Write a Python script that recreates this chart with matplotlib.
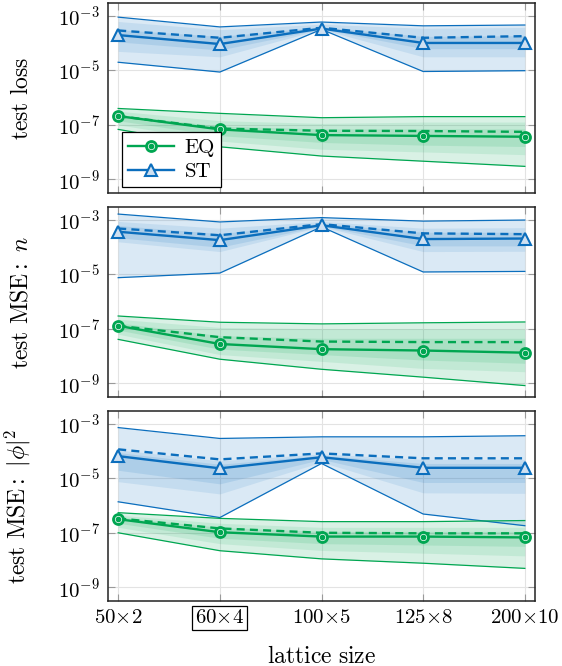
import numpy as np
import matplotlib
matplotlib.use('Agg')
import matplotlib.pyplot as plt
from matplotlib.ticker import FixedLocator, NullLocator

plt.rcParams['font.family'] = 'serif'
plt.rcParams['font.serif'] = ['cmr10']
plt.rcParams['mathtext.fontset'] = 'cm'
plt.rcParams['axes.formatter.use_mathtext'] = True

# lattice sizes on the x axis
lattice = [r'$50{\times}2$', r'$60{\times}4$', r'$100{\times}5$', r'$125{\times}8$', r'$200{\times}10$']
ylabels = [r'$\mathrm{test\ loss}$', r'$\mathrm{test\ MSE{:}}\ n$', r'$\mathrm{test\ MSE{:}}\ {|}\phi{|}^2$']

# all values are log10 of the metric
# panel 1: test loss
st_loss_max = [-3.04, -3.40, -3.22, -3.36, -3.33]
st_loss_q90 = [-3.20, -3.50, -3.30, -3.45, -3.42]
st_loss_q75 = [-3.50, -3.75, -3.40, -3.75, -3.72]
st_loss_med = [-3.70, -4.03, -3.46, -3.99, -3.99]
st_loss_mean = [-3.53, -3.80, -3.43, -3.80, -3.74]
st_loss_q25 = [-3.95, -4.25, -3.48, -4.20, -4.20]
st_loss_q10 = [-4.30, -4.50, -3.49, -4.50, -4.50]
st_loss_min = [-4.70, -5.06, -3.49, -5.04, -5.01]

eq_loss_max = [-6.40, -6.58, -6.74, -6.70, -6.70]
eq_loss_q90 = [-6.50, -6.85, -6.95, -6.90, -6.90]
eq_loss_q75 = [-6.62, -7.05, -7.15, -7.15, -7.15]
eq_loss_med = [-6.68, -7.17, -7.38, -7.41, -7.44]
eq_loss_mean = [-6.68, -7.14, -7.22, -7.23, -7.26]
eq_loss_q25 = [-6.85, -7.40, -7.65, -7.75, -7.80]
eq_loss_q10 = [-7.00, -7.60, -7.90, -8.00, -8.10]
eq_loss_min = [-7.17, -7.81, -8.15, -8.34, -8.53]

# panel 2: test MSE n
st_n_max = [-2.78, -3.07, -2.91, -3.04, -3.00]
st_n_q90 = [-3.05, -3.30, -3.05, -3.30, -3.28]
st_n_q75 = [-3.20, -3.50, -3.12, -3.45, -3.45]
st_n_med = [-3.43, -3.74, -3.19, -3.70, -3.68]
st_n_mean = [-3.31, -3.56, -3.15, -3.49, -3.52]
st_n_q25 = [-3.65, -4.00, -3.22, -3.95, -3.95]
st_n_q10 = [-3.80, -4.16, -3.24, -4.16, -4.15]
st_n_min = [-5.12, -4.95, -3.25, -4.91, -4.89]

eq_n_max = [-6.53, -6.76, -6.82, -6.78, -6.75]
eq_n_q90 = [-6.65, -6.95, -7.00, -7.00, -7.02]
eq_n_q75 = [-6.78, -7.25, -7.35, -7.35, -7.35]
eq_n_med = [-6.89, -7.56, -7.75, -7.80, -7.88]
eq_n_mean = [-6.89, -7.31, -7.47, -7.49, -7.49]
eq_n_q25 = [-7.05, -7.75, -7.95, -8.15, -8.27]
eq_n_q10 = [-7.20, -7.95, -8.20, -8.46, -8.58]
eq_n_min = [-7.39, -8.12, -8.49, -8.78, -9.09]

# panel 3: test MSE |phi|^2
st_phi_max = [-3.13, -3.53, -3.47, -3.47, -3.43]
st_phi_q90 = [-3.95, -4.35, -4.10, -4.30, -4.30]
st_phi_q75 = [-4.05, -4.48, -4.15, -4.45, -4.45]
st_phi_med = [-4.18, -4.63, -4.22, -4.61, -4.61]
st_phi_mean = [-3.93, -4.30, -4.08, -4.26, -4.26]
st_phi_q25 = [-4.70, -5.20, -4.30, -5.15, -5.15]
st_phi_q10 = [-5.12, -5.57, -4.40, -5.53, -5.55]
st_phi_min = [-5.86, -6.44, -4.45, -6.31, -6.74]

eq_phi_max = [-6.26, -6.47, -6.59, -6.59, -6.55]
eq_phi_q90 = [-6.35, -6.65, -6.80, -6.80, -6.80]
eq_phi_q75 = [-6.42, -6.80, -6.95, -6.95, -6.95]
eq_phi_med = [-6.50, -6.98, -7.14, -7.14, -7.17]
eq_phi_mean = [-6.47, -6.84, -7.00, -7.02, -7.02]
eq_phi_q25 = [-6.65, -7.20, -7.40, -7.45, -7.50]
eq_phi_q10 = [-6.80, -7.40, -7.65, -7.75, -7.85]
eq_phi_min = [-7.00, -7.66, -7.96, -8.12, -8.31]

panels = [
    dict(st=(st_loss_min, st_loss_q10, st_loss_q25, st_loss_med, st_loss_mean, st_loss_q75, st_loss_q90, st_loss_max),
         eq=(eq_loss_min, eq_loss_q10, eq_loss_q25, eq_loss_med, eq_loss_mean, eq_loss_q75, eq_loss_q90, eq_loss_max)),
    dict(st=(st_n_min, st_n_q10, st_n_q25, st_n_med, st_n_mean, st_n_q75, st_n_q90, st_n_max),
         eq=(eq_n_min, eq_n_q10, eq_n_q25, eq_n_med, eq_n_mean, eq_n_q75, eq_n_q90, eq_n_max)),
    dict(st=(st_phi_min, st_phi_q10, st_phi_q25, st_phi_med, st_phi_mean, st_phi_q75, st_phi_q90, st_phi_max),
         eq=(eq_phi_min, eq_phi_q10, eq_phi_q25, eq_phi_med, eq_phi_mean, eq_phi_q75, eq_phi_q90, eq_phi_max)),
]

blue = '#0B6EBD'
green = '#00A651'
x = np.arange(len(lattice))

fig = plt.figure(figsize=(5.62, 6.66), dpi=100)
W, H = 562, 666
axes = []
for top in [3, 207, 411]:
    axes.append(fig.add_axes([108 / W, 1 - (top + 190) / H, 427 / W, 190 / H]))


def draw_series(ax, vals, color, kind):
    lo, q10, q25, med, mean, q75, q90, hi = [10 ** np.array(v) for v in vals]
    ax.fill_between(x, lo, hi, color=color, alpha=0.15, lw=0)
    ax.fill_between(x, q10, q90, color=color, alpha=0.10, lw=0)
    ax.fill_between(x, q25, q75, color=color, alpha=0.12, lw=0)
    ax.plot(x, lo, color=color, lw=0.9)
    ax.plot(x, hi, color=color, lw=0.9)
    ax.plot(x, mean, color=color, lw=1.7, ls=(0, (3.4, 2.2)))
    if kind == 'eq':
        line, = ax.plot(x, med, color=color, lw=1.7, marker='o', ms=8,
                        mfc=color, mec=color, mew=1.2)
        ring, = ax.plot(x, med, ls='none', marker='o', ms=4.6,
                        mfc='none', mec='white', mew=0.5)
        return (line, ring)
    line, = ax.plot(x, med, color=color, lw=1.7, marker='^', ms=8,
                    mfc='#cfe0f1', mec=color, mew=1.5)
    return line


for i, ax in enumerate(axes):
    p = panels[i]
    h_st = draw_series(ax, p['st'], blue, 'st')
    h_eq = draw_series(ax, p['eq'], green, 'eq')

    ax.set_yscale('log')
    ax.set_ylim(10 ** -9.51, 10 ** -2.52)
    ax.set_xlim(-0.1, 4.1)
    ax.yaxis.set_major_locator(FixedLocator([1e-9, 1e-7, 1e-5, 1e-3]))
    ax.yaxis.set_minor_locator(NullLocator())
    ax.set_xticks(x)
    ax.grid(True, color='#e3e3e3', lw=0.8)
    ax.set_axisbelow(True)
    ax.tick_params(direction='in', length=5, width=0.8, color='#9a9a9a',
                   top=True, right=True, labelsize=15, pad=6)
    for s in ax.spines.values():
        s.set_linewidth(1.1)
        s.set_color('#222222')
    ax.set_ylabel(ylabels[i], fontsize=17)
    ax.yaxis.set_label_coords(-0.176, 0.5)
    if i < 2:
        ax.set_xticklabels([])
    else:
        ax.set_xticklabels(lattice)
        ax.get_xticklabels()[1].set_bbox(dict(boxstyle='square,pad=0.15', fc='none',
                                              ec='black', lw=0.9))
        ax.set_xlabel(r'$\mathrm{lattice\ size}$', fontsize=17, labelpad=13)

    if i == 0:
        leg = ax.legend([h_eq, h_st], ['EQ', 'ST'], loc='lower left',
                        bbox_to_anchor=(0.033, 0.03), fontsize=15, frameon=True,
                        fancybox=False, edgecolor='black', framealpha=1,
                        handlelength=2.2, borderpad=0.3, labelspacing=0.25,
                        handletextpad=0.5, borderaxespad=0)
        leg.get_frame().set_linewidth(0.9)

fig.savefig('out.png', dpi=100)
